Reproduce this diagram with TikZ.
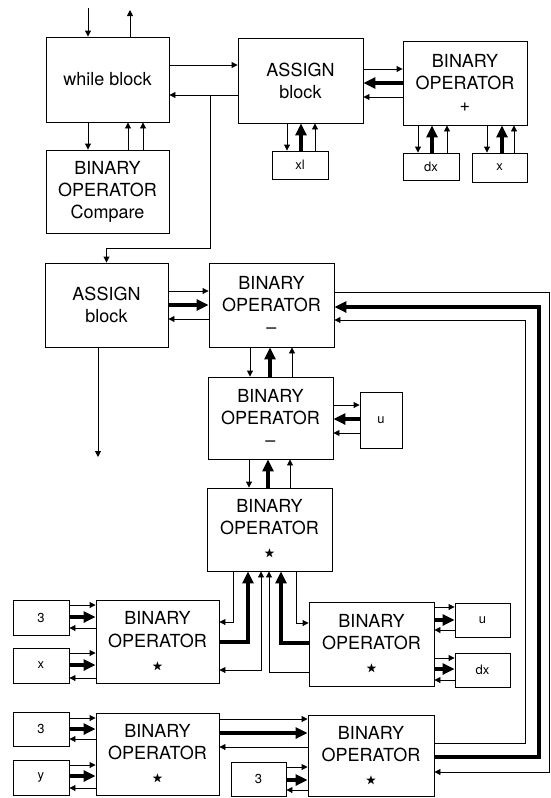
\documentclass[tikz,border=0pt]{standalone}
\usepackage{amssymb}
\usepackage{fontspec}
\setmainfont{TeX Gyre Heros}
\usetikzlibrary{arrows.meta}
\newcommand{\opstar}{{\fontsize{11}{22}\selectfont$\bigstar$}}

\begin{document}
\begin{tikzpicture}[x=1pt,y=-1pt,
  opbox/.style={draw,line width=0.9pt,align=center,inner sep=0pt,font=\fontsize{18}{22}\selectfont},
  leaf/.style={draw,line width=0.9pt,inner sep=0pt,font=\fontsize{13}{14}\selectfont},
  sig/.style={line width=0.9pt,-{Triangle[length=6pt,width=6pt]}},
  sigboth/.style={line width=0.9pt,{Triangle[length=6pt,width=6pt]}-{Triangle[length=6pt,width=6pt]}},
  val/.style={line width=3.2pt,-{Triangle[length=12pt,width=11pt]}}]
  \useasboundingbox (0,0) rectangle (551,798);

  \node[opbox,minimum width=123pt,minimum height=85pt] (while) at (107.5,79.5) {while block};
  \node[opbox,minimum width=123pt,minimum height=83pt] (cmp) at (107.5,191.5) {BINARY\\OPERATOR\\Compare};
  \node[opbox,minimum width=125pt,minimum height=85pt] (asg1) at (300.5,80.5) {ASSIGN\\block};
  \node[opbox,minimum width=124pt,minimum height=84pt] (plus) at (465,83) {BINARY\\OPERATOR\\+};
  \node[leaf,minimum width=56pt,minimum height=28pt] (xl) at (300,165) {xl};
  \node[leaf,minimum width=56pt,minimum height=27pt] (dxa) at (431,166.5) {dx};
  \node[leaf,minimum width=55pt,minimum height=29pt] (xa) at (499.5,167.5) {x};

  \node[opbox,minimum width=123pt,minimum height=84pt] (asg2) at (106.5,305) {ASSIGN\\block};
  \node[opbox,minimum width=125pt,minimum height=84pt] (sub1) at (271.5,305) {BINARY\\OPERATOR\\--};
  \node[opbox,minimum width=125pt,minimum height=82pt] (sub2) at (270.5,418) {BINARY\\OPERATOR\\--};
  \node[leaf,minimum width=42pt,minimum height=56pt] (ua) at (381,420) {u};
  \node[opbox,minimum width=125pt,minimum height=83pt] (mul) at (269.5,529.5) {BINARY\\OPERATOR\\\opstar};

  \node[opbox,minimum width=123pt,minimum height=83pt] (L1) at (157.5,641.5) {BINARY\\OPERATOR\\\opstar};
  \node[leaf,minimum width=56pt,minimum height=35pt] (c3a) at (41,617.5) {3};
  \node[leaf,minimum width=56pt,minimum height=35pt] (xb) at (41,665.5) {x};
  \node[opbox,minimum width=125pt,minimum height=84pt] (R1) at (371.5,644) {BINARY\\OPERATOR\\\opstar};
  \node[leaf,minimum width=55pt,minimum height=34pt] (ub) at (482.5,620) {u};
  \node[leaf,minimum width=55pt,minimum height=34pt] (dxb) at (482.5,670) {dx};

  \node[opbox,minimum width=123pt,minimum height=82pt] (L2) at (157.5,754) {BINARY\\OPERATOR\\\opstar};
  \node[leaf,minimum width=56pt,minimum height=34pt] (c3b) at (41,729) {3};
  \node[leaf,minimum width=56pt,minimum height=35pt] (ya) at (41,777.5) {y};
  \node[opbox,minimum width=126pt,minimum height=81pt] (R2) at (371,755.5) {BINARY\\OPERATOR\\\opstar};
  \node[leaf,minimum width=55pt,minimum height=34pt] (c3c) at (258.5,779) {3};

  \coordinate (in) at (88,8);
  \coordinate (out) at (130,10);
  \coordinate (tap) at (210,95);
  \coordinate (down) at (98,457);

  \draw[sig] (in) -- (while.north -| in);
  \draw[sig] (while.north -| out) -- (out);
  \draw[sig] (while.south -| 88,0) -- (cmp.north -| 88,0);
  \draw[sig] (cmp.north -| 128,0) -- (while.south -| 128,0);
  \draw[sig] (cmp.north -| 143,0) -- (while.south -| 143,0);
  \draw[sig] (while.east |- 0,65) -- (asg1.west |- 0,65);
  \draw[sig] (asg1.west |- 0,95) -- (while.east |- 0,95);
  \draw[sig] (tap) -- (210,248) -| (asg2.north);

  \draw[sig] (asg1.east |- 0,69) -- (plus.west |- 0,69);
  \draw[val] (plus.west |- 0,83) -- (asg1.east |- 0,83);
  \draw[sig] (plus.west |- 0,97) -- (asg1.east |- 0,97);
  \draw[sig] (asg1.south -| 287,0) -- (xl.north -| 287,0);
  \draw[val] (xl.north -| 301,0) -- (asg1.south -| 301,0);
  \draw[sig] (xl.north -| 315,0) -- (asg1.south -| 315,0);
  \draw[sig] (plus.south -| 418,0) -- (dxa.north -| 418,0);
  \draw[val] (dxa.north -| 432,0) -- (plus.south -| 432,0);
  \draw[sig] (dxa.north -| 447,0) -- (plus.south -| 447,0);
  \draw[sig] (plus.south -| 487,0) -- (xa.north -| 487,0);
  \draw[val] (xa.north -| 502,0) -- (plus.south -| 502,0);
  \draw[sig] (xa.north -| 514,0) -- (plus.south -| 514,0);

  \draw[sig] (asg2.east |- 0,291) -- (sub1.west |- 0,291);
  \draw[val] (asg2.east |- 0,305) -- (sub1.west |- 0,305);
  \draw[sig] (sub1.west |- 0,319) -- (asg2.east |- 0,319);
  \draw[sig] (asg2.south -| down) -- (down);

  \draw[sig] (sub1.south -| 250,0) -- (sub2.north -| 250,0);
  \draw[val] (sub2.north -| 270,0) -- (sub1.south -| 270,0);
  \draw[sig] (sub2.north -| 292,0) -- (sub1.south -| 292,0);
  \draw[sig] (sub2.east |- 0,405) -- (ua.west |- 0,405);
  \draw[val] (ua.west |- 0,419) -- (sub2.east |- 0,419);
  \draw[sig] (ua.west |- 0,433) -- (sub2.east |- 0,433);
  \draw[sig] (sub2.south -| 249,0) -- (mul.north -| 249,0);
  \draw[val] (mul.north -| 268,0) -- (sub2.south -| 268,0);
  \draw[sig] (mul.north -| 290,0) -- (sub2.south -| 290,0);

  \draw[sig] (mul.south -| 233,0) |- (L1.east |- 0,622);
  \draw[val] (L1.east |- 0,642) -| (mul.south -| 248,0);
  \draw[sigboth] (L1.east |- 0,670) -| (mul.south -| 261,0);
  \draw[sig] (mul.south -| 296,0) |- (R1.west |- 0,623);
  \draw[val] (R1.west |- 0,643) -| (mul.south -| 281,0);
  \draw[sig] (R1.west |- 0,672) -| (mul.south -| 269,0);

  \draw[sig] (c3a.east |- 0,605) -- (L1.west |- 0,605);
  \draw[val] (c3a.east |- 0,617) -- (L1.west |- 0,617);
  \draw[sig] (L1.west |- 0,628) -- (c3a.east |- 0,628);
  \draw[sig] (xb.east |- 0,653) -- (L1.west |- 0,653);
  \draw[val] (xb.east |- 0,665) -- (L1.west |- 0,665);
  \draw[sig] (L1.west |- 0,678) -- (xb.east |- 0,678);
  \draw[sig] (R1.east |- 0,607) -- (ub.west |- 0,607);
  \draw[val] (R1.east |- 0,620) -- (ub.west |- 0,620);
  \draw[sig] (ub.west |- 0,630) -- (R1.east |- 0,630);
  \draw[sig] (R1.east |- 0,658) -- (dxb.west |- 0,658);
  \draw[val] (R1.east |- 0,669) -- (dxb.west |- 0,669);
  \draw[sig] (dxb.west |- 0,680) -- (R1.east |- 0,680);

  \draw[sig] (c3b.east |- 0,718) -- (L2.west |- 0,718);
  \draw[val] (c3b.east |- 0,729) -- (L2.west |- 0,729);
  \draw[sig] (L2.west |- 0,739) -- (c3b.east |- 0,739);
  \draw[sig] (ya.east |- 0,765) -- (L2.west |- 0,765);
  \draw[val] (ya.east |- 0,776) -- (L2.west |- 0,776);
  \draw[sig] (L2.west |- 0,788) -- (ya.east |- 0,788);
  \draw[sig] (L2.east |- 0,719) -- (R2.west |- 0,719);
  \draw[val] (L2.east |- 0,733) -- (R2.west |- 0,733);
  \draw[sig] (R2.west |- 0,747) -- (L2.east |- 0,747);
  \draw[sig] (c3c.east |- 0,767) -- (R2.west |- 0,767);
  \draw[val] (c3c.east |- 0,780) -- (R2.west |- 0,780);
  \draw[sig] (R2.west |- 0,790) -- (c3c.east |- 0,790);

  \draw[sig] (R2.east |- 0,743) -- (525,743) |- (sub1.east |- 0,320);
  \draw[val] (R2.east |- 0,757) -- (539,757) |- (sub1.east |- 0,307);
  \draw[sig] (sub1.east |- 0,292) -- (549,292) |- (R2.east |- 0,772);
\end{tikzpicture}
\end{document}
